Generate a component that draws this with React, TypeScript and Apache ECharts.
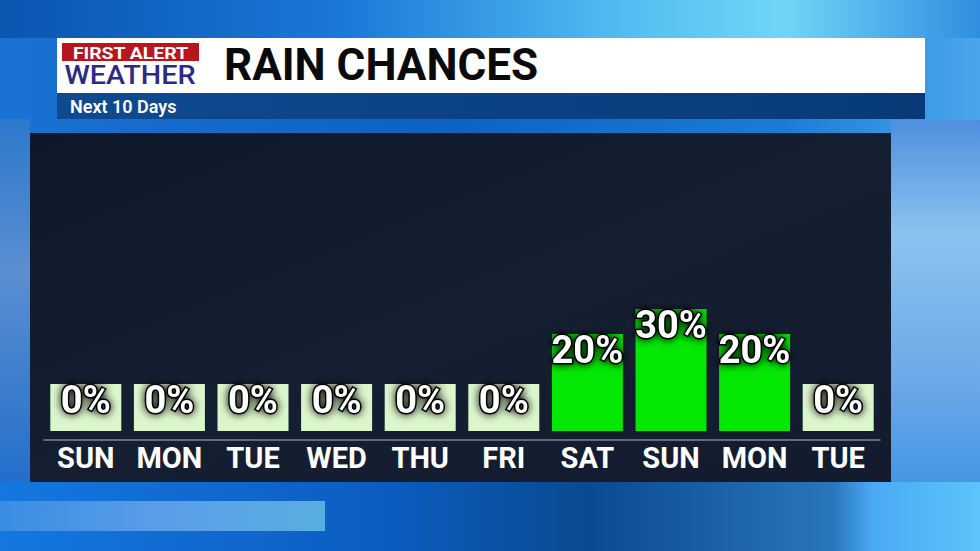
import React, { useEffect, useRef } from "react";
import * as echarts from "echarts";

const days = ["SUN", "MON", "TUE", "WED", "THU", "FRI", "SAT", "SUN", "MON", "TUE"];
const rainChance = [0, 0, 0, 0, 0, 0, 20, 30, 20, 0];
const BOX_BASE = 18.8;
const baseValues = days.map(() => BOX_BASE);

const FONT = "Roboto, 'Noto Sans', sans-serif";

export default function App() {
  const ref = useRef<HTMLDivElement>(null);
  useEffect(() => {
    document.body.style.margin = "0";
    const chart = echarts.init(ref.current!, null, { renderer: "svg" });
    const green = "#03e803";
    const pale = "#dcf6cc";
    const option: any = {
      animation: false,
      backgroundColor: "#1166c6",
      grid: { left: 44, right: 100, top: 181, bottom: 120 },
      xAxis: {
        type: "category",
        data: days,
        offset: 9,
        axisLine: { show: true, onZero: false, lineStyle: { color: "#7d8699", width: 1.5 } },
        axisTick: { show: false },
        axisLabel: {
          interval: 0,
          color: "#ffffff",
          fontFamily: FONT,
          fontWeight: "bold",
          fontSize: 29,
          margin: 3,
        },
        splitLine: { show: false },
      },
      yAxis: { type: "value", min: 0, max: 100, show: false },
      graphic: [
        // background
        {
          type: "rect", z: -10, silent: true,
          shape: { x: 0, y: 0, width: 980, height: 551 },
          style: {
            fill: new echarts.graphic.LinearGradient(0, 0, 1, 0, [
              { offset: 0, color: "#1a72d2" },
              { offset: 0.45, color: "#0d62c4" },
              { offset: 0.8, color: "#1a7cd8" },
              { offset: 1, color: "#4aa6ec" },
            ]),
          },
        },
        {
          type: "rect", z: -9, silent: true,
          shape: { x: 0, y: 0, width: 980, height: 38 },
          style: {
            fill: new echarts.graphic.LinearGradient(0, 0, 1, 0, [
              { offset: 0, color: "#0b55b0" },
              { offset: 0.35, color: "#1a78d8" },
              { offset: 0.62, color: "#4fbaf0" },
              { offset: 0.8, color: "#6fd6f8" },
              { offset: 1, color: "#2f8ee0" },
            ]),
          },
        },
        {
          type: "rect", z: -9, silent: true,
          shape: { x: 891, y: 120, width: 89, height: 380 },
          style: {
            fill: new echarts.graphic.LinearGradient(0, 0, 0, 1, [
              { offset: 0, color: "#4e90de" },
              { offset: 0.3, color: "#8cc2f0" },
              { offset: 0.7, color: "#6aa8e8" },
              { offset: 1, color: "#3f92e4" },
            ]),
          },
        },
        {
          type: "rect", z: -9, silent: true,
          shape: { x: 0, y: 119, width: 30, height: 380 },
          style: {
            fill: new echarts.graphic.LinearGradient(0, 0, 0, 1, [
              { offset: 0, color: "#2d78cc" },
              { offset: 0.4, color: "#5a8fd0" },
              { offset: 1, color: "#1f6ccc" },
            ]),
          },
        },
        {
          type: "rect", z: -9, silent: true,
          shape: { x: 0, y: 482, width: 980, height: 69 },
          style: {
            fill: new echarts.graphic.LinearGradient(0, 0, 1, 0, [
              { offset: 0, color: "#1478e0" },
              { offset: 0.4, color: "#0c5cc0" },
              { offset: 0.6, color: "#0a4a90" },
              { offset: 0.85, color: "#2a76bb" },
              { offset: 0.89, color: "#4aaaf5" },
              { offset: 1, color: "#5cc4f8" },
            ]),
          },
        },
        {
          type: "rect", z: -8, silent: true,
          shape: { x: 0, y: 501, width: 325, height: 30 },
          style: {
            fill: new echarts.graphic.LinearGradient(0, 0, 1, 0, [
              { offset: 0, color: "#3a8ce4" },
              { offset: 0.5, color: "#5a9ee8" },
              { offset: 1, color: "#58aee0" },
            ]),
          },
        },
        // dark panel
        {
          type: "rect", z: -5, silent: true,
          shape: { x: 30, y: 133, width: 861, height: 349 },
          style: {
            fill: new echarts.graphic.LinearGradient(0, 0, 1, 1, [
              { offset: 0, color: "#0e182b" },
              { offset: 0.5, color: "#151f32" },
              { offset: 1, color: "#131c2e" },
            ]),
          },
        },
        // header
        {
          type: "rect", z: -4, silent: true,
          shape: { x: 57, y: 38, width: 868, height: 55 },
          style: { fill: "#ffffff" },
        },
        {
          type: "rect", z: -4, silent: true,
          shape: { x: 57, y: 93, width: 868, height: 26 },
          style: {
            fill: new echarts.graphic.LinearGradient(0, 0, 1, 0, [
              { offset: 0, color: "#0f4a90" },
              { offset: 1, color: "#083a78" },
            ]),
          },
        },
        {
          type: "rect", z: -3, silent: true,
          shape: { x: 62, y: 43, width: 137, height: 18 },
          style: { fill: "#b8151c" },
        },
        {
          type: "text", z: -2, silent: true,
          x: 130.5, y: 52.5, scaleX: 1.14,
          style: {
            text: "FIRST ALERT", fill: "#ffffff", font: `bold 17px ${FONT}`,
            align: "center", verticalAlign: "middle",
          },
        },
        {
          type: "text", z: -2, silent: true,
          x: 130, y: 75.5, scaleX: 1.15,
          style: {
            text: "WEATHER", fill: "#2b2a86", font: `500 25px ${FONT}`,
            align: "center", verticalAlign: "middle",
          },
        },
        {
          type: "text", z: -2, silent: true,
          x: 224, y: 65,
          style: {
            text: "RAIN CHANCES", fill: "#0a0a0a", font: `bold 44px ${FONT}`,
            align: "left", verticalAlign: "middle",
          },
        },
        {
          type: "text", z: -2, silent: true,
          x: 70, y: 106,
          style: {
            text: "Next 10 Days", fill: "#ffffff", font: `600 18px ${FONT}`,
            align: "left", verticalAlign: "middle",
          },
        },
      ],
      series: [
        {
          type: "bar",
          stack: "rain",
          barWidth: 71,
          data: baseValues.map((v, i) => ({
            value: v,
            itemStyle: { color: rainChance[i] > 0 ? green : pale },
          })),
          silent: true,
        },
        {
          type: "bar",
          stack: "rain",
          barWidth: 71,
          itemStyle: { color: green },
          data: rainChance,
          silent: true,
          label: {
            show: true,
            position: "insideTop",
            distance: 0,
            offset: [0, -3],
            formatter: (p: any) => `${p.value}%`,
            color: "#ffffff",
            fontFamily: FONT,
            fontWeight: "bold",
            fontSize: 38,
            textBorderColor: "#000000",
            textBorderWidth: 3,
            textShadowColor: "rgba(0,0,0,1)",
            textShadowBlur: 8,
          },
        },
      ],
    };
    chart.setOption(option);
    return () => chart.dispose();
  }, []);
  return <div ref={ref} style={{ width: 980, height: 551 }} />;
}
